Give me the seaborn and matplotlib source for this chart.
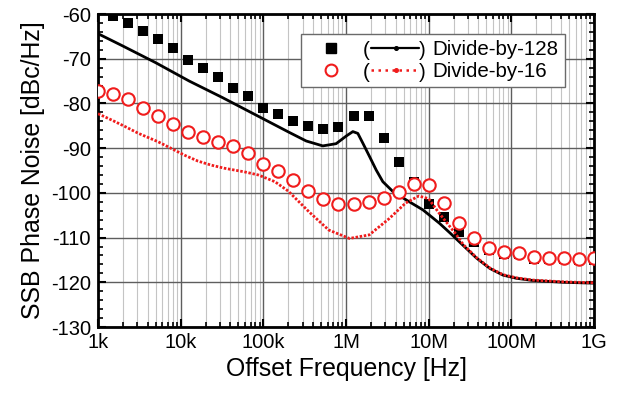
import matplotlib
matplotlib.use("Agg")
import matplotlib.pyplot as plt
import numpy as np
import pandas as pd
import seaborn as sns
from matplotlib.ticker import FixedLocator, FixedFormatter, LogLocator, NullFormatter, MultipleLocator
from matplotlib.legend_handler import HandlerBase
from matplotlib.lines import Line2D
from matplotlib.text import Text

# ---------------- data ----------------
meas_freq = [1.000e3, 1.520e3, 2.310e3, 3.511e3, 5.337e3, 8.111e3, 1.233e4, 1.874e4,
             2.848e4, 4.329e4, 6.579e4, 1.000e5, 1.520e5, 2.310e5, 3.511e5, 5.337e5,
             8.111e5, 1.233e6, 1.874e6, 2.848e6, 4.329e6, 6.579e6, 1.000e7, 1.520e7,
             2.310e7, 3.511e7, 5.337e7, 8.111e7, 1.233e8, 1.874e8, 2.848e8, 4.329e8,
             6.579e8, 1.000e9]
meas_div128 = [-58.8, -60.4, -62.0, -63.7, -65.7, -67.7, -70.3, -72.0, -74.2, -76.6,
               -78.3, -81.0, -82.4, -83.9, -85.0, -85.7, -85.2, -82.7, -82.7, -87.8,
               -93.1, -97.6, -102.4, -105.3, -108.7, -111.0, -112.8, -113.6, -113.7,
               -114.7, -114.9, -114.8, -115.0, -114.9]
meas_div16 = [-77.2, -77.9, -79.1, -81.1, -82.9, -84.5, -86.5, -87.5, -88.6, -89.5,
              -91.1, -93.5, -95.0, -97.2, -99.6, -101.4, -102.4, -102.4, -102.1, -101.1,
              -99.7, -98.0, -98.2, -102.3, -106.7, -110.0, -112.4, -113.3, -113.4,
              -114.4, -114.6, -114.5, -114.7, -114.6]

sim128_freq = [1.0e3, 1.97e3, 5.0e3, 1.27e4, 3.21e4, 8.15e4, 2.07e5, 3.30e5, 5.24e5,
               7.60e5, 1.005e6, 1.21e6, 1.39e6, 1.60e6, 1.93e6, 2.32e6, 2.79e6, 3.69e6,
               5.37e6, 8.51e6, 1.35e7, 1.82e7, 2.63e7, 3.80e7, 5.50e7, 7.94e7, 1.15e8,
               1.82e8, 4.27e8, 1.0e9]
sim128_pn = [-64.4, -67.1, -70.9, -75.0, -78.7, -82.6, -86.5, -88.4, -89.5,
             -89.0, -87.3, -86.3, -86.7, -88.9, -91.9, -94.9, -97.5, -99.7,
             -101.6, -103.8, -106.8, -109.0, -111.8, -114.6, -116.9, -118.4, -119.1,
             -119.6, -120.0, -120.2]

sim16_freq = [1.0e3, 1.46e3, 2.14e3, 3.09e3, 5.37e3, 7.76e3, 1.12e4, 1.62e4, 2.34e4,
              3.39e4, 5.89e4, 8.71e4, 1.38e5, 2.00e5, 3.55e5, 6.17e5, 1.10e6, 1.91e6,
              3.31e6, 5.25e6, 7.59e6, 1.0e7, 1.32e7, 2.09e7, 2.63e7, 3.80e7, 5.50e7,
              7.94e7, 1.15e8, 1.82e8, 4.27e8, 1.0e9]
sim16_pn = [-82.3, -83.7, -85.2, -86.7, -88.6, -90.1, -91.6, -92.9, -93.8,
            -94.5, -95.3, -96.0, -97.5, -99.6, -104.2, -108.3, -110.2, -109.4,
            -105.8, -102.3, -100.7, -101.3, -104.4, -109.0, -111.6, -114.5, -116.8,
            -118.3, -119.0, -119.5, -119.9, -120.1]

x_ticks = [1e3, 1e4, 1e5, 1e6, 1e7, 1e8, 1e9]
x_labels = ["1k", "10k", "100k", "1M", "10M", "100M", "1G"]
y_ticks = [-130, -120, -110, -100, -90, -80, -70, -60]
y_labels = ["-130", "-120", "-110", "-100", "-90", "-80", "-70", "-60"]
labels = ["Divide-by-128", "Divide-by-16"]

RED = "#f01c1c"

# ---------------- style ----------------
sns.set_theme(style="ticks")
plt.rcParams["font.family"] = ["Liberation Sans", "DejaVu Sans"]
plt.rcParams["axes.unicode_minus"] = False
plt.rcParams["text.color"] = "black"
plt.rcParams["axes.labelcolor"] = "black"
plt.rcParams["xtick.color"] = "black"
plt.rcParams["ytick.color"] = "black"

fig = plt.figure(figsize=(6.22, 3.95), dpi=100)
ax = fig.add_axes([98 / 622, 1 - 327 / 395, 496 / 622, 313 / 395])
ax.set_xscale("log")

# measured points
sns.scatterplot(x=meas_freq, y=meas_div128, ax=ax, marker="s", s=55, color="black",
                edgecolor="black", linewidth=0, zorder=3, clip_on=True)
# simulated curves
sns.lineplot(x=sim128_freq, y=sim128_pn, ax=ax, color="black", linewidth=2.0,
             estimator=None, zorder=4)
sns.lineplot(x=sim16_freq, y=sim16_pn, ax=ax, color=RED, linewidth=2.0,
             estimator=None, zorder=4)
ax.lines[-1].set_linestyle((0, (0.9, 0.6)))
sns.scatterplot(x=meas_freq, y=meas_div16, ax=ax, marker="o", s=80, color="white",
                edgecolor=RED, linewidth=1.5, zorder=5, clip_on=True)

ax.set_xlim(1e3, 1e9)
ax.set_ylim(-130, -60)

ax.xaxis.set_major_locator(FixedLocator(x_ticks))
ax.xaxis.set_major_formatter(FixedFormatter(x_labels))
ax.xaxis.set_minor_locator(LogLocator(base=10, subs=np.arange(2, 10), numticks=20))
ax.xaxis.set_minor_formatter(NullFormatter())
ax.yaxis.set_major_locator(FixedLocator(y_ticks))
ax.yaxis.set_major_formatter(FixedFormatter(y_labels))
ax.yaxis.set_minor_locator(MultipleLocator(2))

ax.set_axisbelow(True)
ax.grid(which="major", axis="both", color="#5e5e5e", linewidth=1.0)
ax.grid(which="minor", axis="x", color="#c4c4c4", linewidth=0.8)

ax.tick_params(which="both", direction="in", top=True, right=True, colors="black",
               labelcolor="black")
ax.tick_params(which="major", length=6, width=1.5, labelsize=14.5, pad=4)
ax.tick_params(which="minor", length=3.5, width=1.2)
ax.tick_params(axis="y", which="major", pad=5)
for sp in ax.spines.values():
    sp.set_linewidth(2.0)
    sp.set_color("black")

ax.set_xlabel("Offset Frequency [Hz]", fontsize=17.9, labelpad=4, color="black")
ax.set_ylabel("SSB Phase Noise [dBc/Hz]", fontsize=17.9, labelpad=4, color="black")


# ---------------- legend ----------------
class LegendKey:
    def __init__(self, marker_kw, line_kw):
        self.marker_kw = marker_kw
        self.line_kw = line_kw


class ParenHandler(HandlerBase):
    def create_artists(self, legend, orig_handle, xdescent, ydescent, width, height,
                       fontsize, trans):
        y = height / 2 - ydescent
        x0 = -xdescent
        col = orig_handle.line_kw.get("color", "black")
        mk = Line2D([x0 + 0.20 * width], [y], linestyle="none", transform=trans,
                    **orig_handle.marker_kw)
        t1 = Text(x0 + 0.49 * width, y, "(", fontsize=fontsize, ha="center",
                  va="center_baseline", transform=trans, color="black")
        ln = Line2D([x0 + 0.535 * width, x0 + 0.94 * width], [y, y], transform=trans,
                    **orig_handle.line_kw)
        dot = Line2D([x0 + 0.74 * width], [y], marker="o", markersize=2.6,
                     linestyle="none", color=col, transform=trans)
        t2 = Text(x0 + 0.965 * width, y, ")", fontsize=fontsize, ha="center",
                  va="center_baseline", transform=trans, color="black")
        return [mk, t1, ln, dot, t2]


keys = [
    LegendKey(dict(marker="s", markersize=7.5, markerfacecolor="black",
                   markeredgecolor="black"),
              dict(color="black", linewidth=1.6, linestyle="-")),
    LegendKey(dict(marker="o", markersize=8.5, markerfacecolor="white",
                   markeredgecolor=RED, markeredgewidth=1.5),
              dict(color=RED, linewidth=1.8, linestyle=(0, (1.0, 1.8)))),
]
leg = ax.legend(keys, labels, handler_map={LegendKey: ParenHandler()},
                loc="upper right", bbox_to_anchor=(0.9415, 0.936), borderaxespad=0,
                fontsize=14.8, handlelength=5.8, handletextpad=0.3, borderpad=0.3,
                labelspacing=0.15, fancybox=False, framealpha=1, edgecolor="#6a6a6a",
                labelcolor="black")
leg.get_frame().set_linewidth(1.0)
leg.set_zorder(10)

fig.savefig("out.png", dpi=100)
